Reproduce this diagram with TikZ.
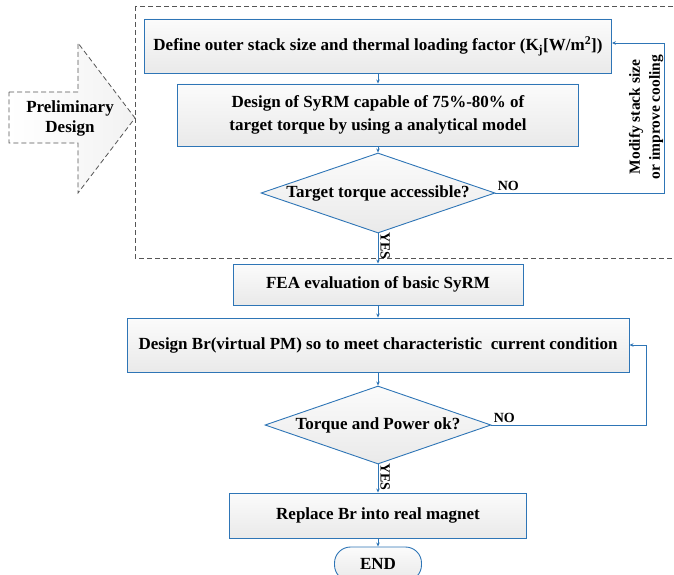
\documentclass[tikz,border=0pt]{standalone}
\usepackage{fontspec}
\setmainfont{Liberation Serif}
\usetikzlibrary{shapes.geometric,arrows.meta}
\definecolor{flowblue}{RGB}{46,117,182}
\definecolor{framegray}{RGB}{85,85,85}
\begin{document}
\begin{tikzpicture}[x=1pt, y=-1pt,
  box/.style={draw=flowblue, line width=0.9pt, top color=gray!3, bottom color=gray!17, inner sep=0pt, align=center, font=\fontsize{17}{23}\selectfont\bfseries},
  decision/.style={box, diamond, aspect=2.9},
  terminal/.style={box, rounded corners=16pt},
  flow/.style={draw=flowblue, line width=0.8pt, -{Stealth[length=4pt,width=3.5pt]}},
  frame/.style={draw=framegray, line width=0.8pt, dash pattern=on 5pt off 3pt},
  note/.style={font=\fontsize{14}{18}\selectfont\bfseries, inner sep=2pt}
]
\useasboundingbox (0,0) rectangle (674,575);
% preliminary design part
\draw[frame] (135,6) rectangle (700,258);
\draw[frame, left color=white, right color=gray!10] (9,92) -- (78,92) -- (78,43) -- (135,118) -- (78,193) -- (78,143) -- (9,143) -- cycle;
\node[align=center, font=\fontsize{17}{20}\selectfont\bfseries] (prelim) at (70,118) {Preliminary\\Design};

\node[box, minimum width=467pt, minimum height=54pt] (stack) at (378,46) {Define outer stack size and thermal loading factor (K\textsubscript{j}[W/m\textsuperscript{2}])};
\node[box, minimum width=401pt, minimum height=62pt] (syrm) at (378,115) {Design of SyRM capable of 75\%-80\% of\\target torque by using a analytical model};
\node[decision, minimum width=234pt, minimum height=80pt] (access) at (378,193) {Target torque accessible?};
\node[note, rotate=90, align=center, font=\fontsize{15.5}{20}\selectfont\bfseries] (modify) at (646,117) {Modify stack size\\or improve cooling};

% design of the magnet
\node[box, minimum width=290pt, minimum height=41pt] (fea) at (378,284.5) {FEA evaluation of basic SyRM};
\node[box, minimum width=502pt, minimum height=54pt] (br) at (378,345) {Design Br(virtual PM) so to meet characteristic~ current condition};
\node[decision, minimum width=226pt, minimum height=78pt] (ok) at (378,425) {Torque and Power ok?};
\node[box, minimum width=297pt, minimum height=45pt] (magnet) at (378,515.5) {Replace Br into real magnet};
\node[terminal, minimum width=87pt, minimum height=34pt] (end) at (378,564) {END};

\foreach \a/\b in {stack/syrm, syrm/access, fea/br, br/ok, magnet/end}
  \draw[flow] (\a) -- (\b);
\draw[flow] (access) -- node[note, pos=0.42, rotate=-90, anchor=south] {YES} (fea);
\draw[flow] (ok) -- node[note, pos=0.45, rotate=-90, anchor=south] {YES} (magnet);

\coordinate (loopA) at (664,193);
\coordinate (loopB) at (646,425);
\draw[flow] (access.east) -- node[note, pos=0, anchor=south west] {NO} (loopA) |- ([yshift=3pt]stack.east);
\draw[flow] (ok.east) -- node[note, pos=0, anchor=south west] {NO} (loopB) |- (br.east);
\end{tikzpicture}
\end{document}
